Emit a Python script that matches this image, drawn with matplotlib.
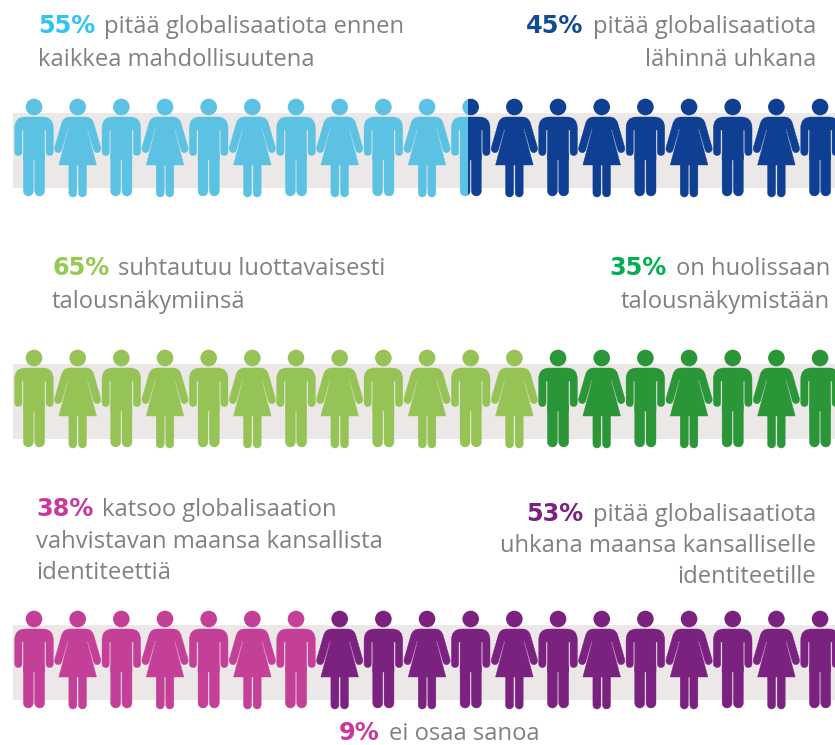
"""Globalisaatio infographic: rows of people split between two answers."""

import matplotlib
matplotlib.use("Agg")
import matplotlib.pyplot as plt
from matplotlib.patches import Circle, PathPatch, Rectangle
from matplotlib.path import Path

plt.rcParams["font.family"] = ["Open Sans", "DejaVu Sans"]

TEXT_GREY = "#808080"
BAND = "#ece8e8"

# how many of the 19 people fall on the left answer in each row
row_tops = [0, 251, 512]
left_people = [10.43, 12, 7]
left_colors = ["#5bc2e3", "#95c355", "#c43f97"]
right_colors = ["#0f3f93", "#2a9638", "#7b2180"]

# (x, baseline, line height, align, bold part, bold colour, [lines])
labels = [
    (38, 33, 33, "left", "55%", "#2fc4f5", ["pitää globalisaatiota ennen", "kaikkea mahdollisuutena"]),
    (816, 33, 33, "right", "45%", "#0f4c94", ["pitää globalisaatiota", "lähinnä uhkana"]),
    (52, 275, 33, "left", "65%", "#95c94f", ["suhtautuu luottavaisesti", "talousnäkymiinsä"]),
    (830, 275, 33, "right", "35%", "#00b050", ["on huolissaan", "talousnäkymistään"]),
    (36, 516, 31.5, "left", "38%", "#c9389a", ["katsoo globalisaation", "vahvistavan maansa kansallista", "identiteettiä"]),
    (816, 521, 31, "right", "53%", "#7b2180", ["pitää globalisaatiota", "uhkana maansa kansalliselle", "identiteetille"]),
]
dont_know = ("9%", "#c9389a", "ei osaa sanoa")


def rounded_bar(x0, x1, y0, y1):
    """Vertical limb with round ends."""
    r = (x1 - x0) / 2
    k = r * 0.55
    xc = (x0 + x1) / 2
    verts = [
        (x0, y0 + r), (x0, y0 + r - k), (xc - k, y0), (xc, y0),
        (xc + k, y0), (x1, y0 + r - k), (x1, y0 + r),
        (x1, y1 - r), (x1, y1 - r + k), (xc + k, y1), (xc, y1),
        (xc - k, y1), (x0, y1 - r + k), (x0, y1 - r), (x0, y0 + r),
    ]
    codes = [Path.MOVETO] + [Path.CURVE4] * 6 + [Path.LINETO] + [Path.CURVE4] * 6 + [Path.LINETO]
    return verts, codes


def man_parts():
    # icon outline relative to the figure's centre line
    verts = [
        (-9, 117), (9, 117), (19.3, 117), (19.3, 128),
        (19.3, 151.5), (19.3, 155.5), (15.6, 155.5), (12, 155.5), (12, 151.5),
        (12, 130), (10.6, 130),
        (10.6, 160), (-10.6, 160),
        (-10.6, 130), (-12, 130),
        (-12, 151.5), (-12, 155.5), (-15.6, 155.5), (-19.3, 155.5), (-19.3, 151.5),
        (-19.3, 128), (-19.3, 117), (-9, 117), (-9, 117),
    ]
    codes = [
        Path.MOVETO, Path.LINETO, Path.CURVE3, Path.CURVE3,
        Path.LINETO, Path.CURVE3, Path.CURVE3, Path.CURVE3, Path.CURVE3,
        Path.LINETO, Path.LINETO,
        Path.LINETO, Path.LINETO,
        Path.LINETO, Path.LINETO,
        Path.LINETO, Path.CURVE3, Path.CURVE3, Path.CURVE3, Path.CURVE3,
        Path.LINETO, Path.CURVE3, Path.CURVE3, Path.CLOSEPOLY,
    ]
    return [(verts, codes), rounded_bar(-10.6, -0.7, 150, 196), rounded_bar(0.7, 10.6, 150, 196)]


def woman_parts():
    verts = [
        (-8, 117), (8, 117), (14, 117), (16, 123),
        (22.9, 147), (24, 151), (20.5, 152.5), (17.5, 153.5), (16.0, 150),
        (10.0, 129), (9.3, 129),
        (18.8, 165), (-18.8, 165),
        (-9.3, 129), (-10.0, 129),
        (-16.0, 150), (-17.5, 153.5), (-20.5, 152.5), (-24, 151), (-22.9, 147),
        (-16, 123), (-14, 117), (-8, 117), (-8, 117),
    ]
    codes = [
        Path.MOVETO, Path.LINETO, Path.CURVE3, Path.CURVE3,
        Path.LINETO, Path.CURVE3, Path.CURVE3, Path.CURVE3, Path.CURVE3,
        Path.LINETO, Path.LINETO,
        Path.LINETO, Path.LINETO,
        Path.LINETO, Path.LINETO,
        Path.LINETO, Path.CURVE3, Path.CURVE3, Path.CURVE3, Path.CURVE3,
        Path.LINETO, Path.CURVE3, Path.CURVE3, Path.CLOSEPOLY,
    ]
    return [(verts, codes), rounded_bar(-8.8, -0.8, 160, 197), rounded_bar(0.8, 8.8, 160, 197)]


def draw_person(ax, cx, dy, woman, color, clip_left=None, clip_right=None):
    parts = woman_parts() if woman else man_parts()
    artists = [Circle((cx, 107 + dy), 8.3, fc=color, ec="none", zorder=3)]
    for verts, codes in parts:
        moved = [(x + cx, y + dy) for x, y in verts]
        artists.append(PathPatch(Path(moved, codes), fc=color, ec=color, lw=0.3, zorder=3))
    for a in artists:
        ax.add_patch(a)
        if clip_left is not None or clip_right is not None:
            x0 = clip_left if clip_left is not None else cx - 30
            x1 = clip_right if clip_right is not None else cx + 30
            a.set_clip_path(Rectangle((x0, dy + 90), x1 - x0, 120, transform=ax.transData))


def draw_label(ax, fig, x, y, line_h, align, bold, color, lines, size=17.1, bold_size=17.3):
    renderer = fig.canvas.get_renderer()
    b = ax.text(0, y, bold, fontsize=bold_size, fontweight="bold", color=color,
                family="DejaVu Sans", va="baseline", ha="left")
    t = ax.text(0, y, lines[0], fontsize=size, color=TEXT_GREY, va="baseline", ha="left")
    bw = b.get_window_extent(renderer).width
    tw = t.get_window_extent(renderer).width
    gap = 9
    start = x if align == "left" else x - (bw + gap + tw)
    b.set_x(start)
    t.set_x(start + bw + gap)
    for i, line in enumerate(lines[1:], start=1):
        ax.text(x, y + i * line_h, line, fontsize=size, color=TEXT_GREY, va="baseline", ha=align)


fig = plt.figure(figsize=(8.35, 7.45), dpi=100)
ax = fig.add_axes([0, 0, 1, 1])
ax.set_xlim(0, 835)
ax.set_ylim(745, 0)
ax.axis("off")

first_cx = 34
step = 43.67

for dy, n_left, c_left, c_right in zip(row_tops, left_people, left_colors, right_colors):
    ax.add_patch(Rectangle((13, 113 + dy), 822, 75, fc=BAND, ec="none", zorder=1))
    split = first_cx + (n_left - 0.5) * step
    for i in range(19):
        cx = first_cx + i * step
        woman = i % 2 == 1
        if cx + 21.8 <= split:
            draw_person(ax, cx, dy, woman, c_left)
        elif cx - 21.8 >= split:
            draw_person(ax, cx, dy, woman, c_right)
        else:
            draw_person(ax, cx, dy, woman, c_left, clip_right=split)
            draw_person(ax, cx, dy, woman, c_right, clip_left=split)

fig.canvas.draw()
for x, y, line_h, align, bold, color, lines in labels:
    draw_label(ax, fig, x, y, line_h, align, bold, color, lines)

bold, color, rest = dont_know
draw_label(ax, fig, 339, 740, 0, "left", bold, color, [rest])

fig.savefig("out.png", dpi=100)
